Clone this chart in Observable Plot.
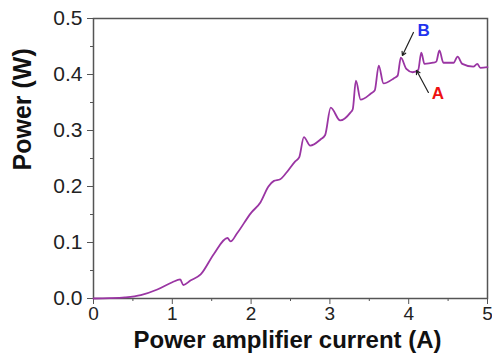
<!DOCTYPE html>
<html>
<head>
<meta charset="utf-8">
<script src="https://cdn.jsdelivr.net/npm/d3@7"></script>
<script src="https://cdn.jsdelivr.net/npm/@observablehq/plot@0.6"></script>
<style>
  html, body { margin: 0; padding: 0; background: #fff; }
  #chart { width: 492px; height: 360px; }
</style>
</head>
<body>
<div id="chart"></div>
<script>
const current = [0, 0.2, 0.4, 0.6, 0.81, 1.0, 1.10, 1.14, 1.23, 1.36, 1.53, 1.70, 1.74, 1.82, 2.0, 2.12, 2.22, 2.29, 2.37, 2.45, 2.56, 2.61, 2.67, 2.75, 2.88, 2.94, 3.01, 3.13, 3.26, 3.29, 3.33, 3.39, 3.52, 3.57, 3.62, 3.68, 3.81, 3.86, 3.90, 3.97, 4.05, 4.12, 4.16, 4.20, 4.31, 4.35, 4.39, 4.44, 4.57, 4.62, 4.68, 4.82, 4.87, 4.91, 5.0];
const power   = [0, 0.0005, 0.002, 0.006, 0.016, 0.029, 0.034, 0.024, 0.032, 0.043, 0.08, 0.108, 0.102, 0.116, 0.153, 0.172, 0.2, 0.21, 0.213, 0.225, 0.245, 0.252, 0.288, 0.273, 0.284, 0.292, 0.341, 0.318, 0.332, 0.338, 0.389, 0.355, 0.366, 0.372, 0.416, 0.384, 0.393, 0.398, 0.43, 0.41, 0.404, 0.408, 0.439, 0.419, 0.421, 0.423, 0.443, 0.421, 0.421, 0.432, 0.419, 0.414, 0.419, 0.412, 0.413];

const xTicks = [0, 1, 2, 3, 4, 5];
const xMinorTicks = [0.5, 1.5, 2.5, 3.5, 4.5];
const yTicks = [0.0, 0.1, 0.2, 0.3, 0.4, 0.5];
const yMinorTicks = [0.05, 0.15, 0.25, 0.35, 0.45];

const xLabel = "Power amplifier current (A)";
const yLabel = "Power (W)";

const annLabels = ["B", "A"];
const annColors = ["#2233ee", "#ee1111"];
const annX = [4.19, 4.37];
const annY = [0.479, 0.366];
const arrowX1 = [4.06, 4.25];
const arrowY1 = [0.475, 0.368];
const arrowX2 = [3.92, 4.10];
const arrowY2 = [0.434, 0.407];

const data = current.map((x, i) => ({x, y: power[i]}));
const ann = annLabels.map((t, i) => ({t, c: annColors[i], x: annX[i], y: annY[i], x1: arrowX1[i], y1: arrowY1[i], x2: arrowX2[i], y2: arrowY2[i]}));

const axisColor = "#555";
const font = "Arial, 'Liberation Sans', sans-serif";

const chart = Plot.plot({
  width: 492,
  height: 360,
  marginLeft: 93,
  marginRight: 5,
  marginTop: 18,
  marginBottom: 62,
  style: {fontFamily: font, background: "#fff", color: "#222"},
  x: {domain: [0, 5]},
  y: {domain: [0, 0.5]},
  marks: [
    Plot.axisX({ticks: xTicks, tickSize: 6, tickPadding: 2, fontSize: 19, label: null, stroke: axisColor, tickFormat: d => String(d)}),
    Plot.axisX({ticks: xMinorTicks, tickSize: 3, text: null, label: null, stroke: axisColor}),
    Plot.axisY({ticks: yTicks, tickSize: 6, tickPadding: 5, fontSize: 21, label: null, stroke: axisColor, tickFormat: d3.format(".1f")}),
    Plot.axisY({ticks: yMinorTicks, tickSize: 3, text: null, label: null, stroke: axisColor}),
    Plot.frame({stroke: axisColor, strokeWidth: 1.5}),
    Plot.line(data, {x: "x", y: "y", stroke: "#9a35a3", strokeWidth: 1.8, curve: "monotone-x"}),
    Plot.arrow(ann, {x1: "x1", y1: "y1", x2: "x2", y2: "y2", stroke: "#222", strokeWidth: 1.2, headLength: 5}),
    Plot.text(ann, {x: "x", y: "y", text: "t", fill: "c", fontSize: 17, fontWeight: "bold"}),
    Plot.text([xLabel], {frameAnchor: "bottom", text: d => d, dy: 49, dx: -3, fontSize: 24, fontWeight: "bold", fill: "#111"}),
    Plot.text([yLabel], {frameAnchor: "left", text: d => d, rotate: -90, dx: -71, dy: 12, fontSize: 25, fontWeight: "bold", fill: "#111"})
  ]
});
document.getElementById("chart").appendChild(chart);
</script>
</body>
</html>
